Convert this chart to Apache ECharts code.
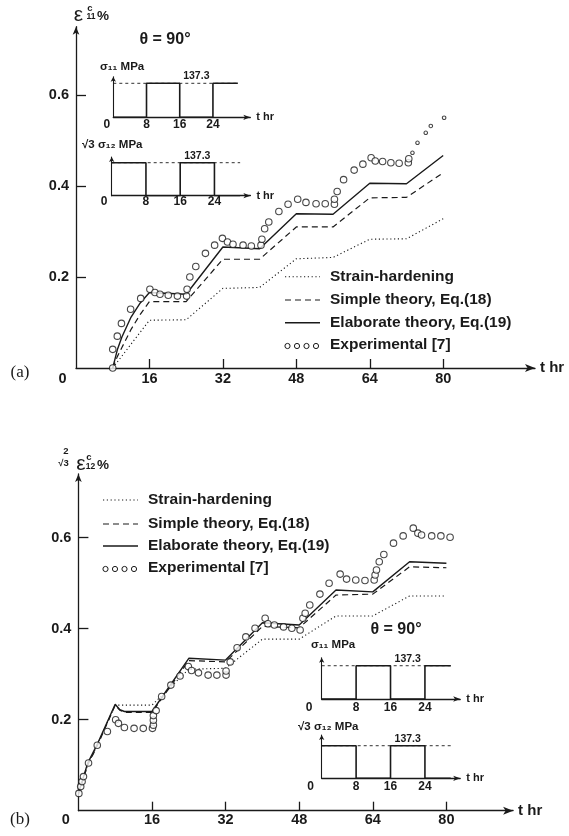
<!DOCTYPE html>
<html>
<head>
<meta charset="utf-8">
<script src="https://cdn.jsdelivr.net/npm/echarts@6/dist/echarts.min.js"></script>
<style>
  html, body { margin: 0; padding: 0; background: #fff; }
  #chart { width: 569px; height: 836px; }
</style>
</head>
<body>
<div id="chart"></div>
<script>
// ---- (a) theta = 90 deg : eps11 creep strain (%) vs t (hr) ----
const strainHardeningA = [[8, 0], [16, 0.105], [24, 0.106], [32, 0.175], [40, 0.177], [48, 0.24], [56, 0.243], [64, 0.283], [72, 0.284], [80, 0.328]];
const simpleTheoryA = [[8, 0], [9, 0.025], [10, 0.045], [12, 0.085], [14, 0.118], [16, 0.146], [24, 0.146], [32, 0.239], [40, 0.239], [48, 0.31], [56, 0.31], [64, 0.374], [72, 0.375], [80, 0.429]];
const elaborateTheoryA = [[8, 0], [9, 0.04], [10, 0.068], [12, 0.112], [14, 0.143], [16, 0.166], [24, 0.162], [32, 0.266], [40, 0.262], [48, 0.339], [56, 0.338], [64, 0.406], [72, 0.405], [80, 0.467]];
const experimentalA = [
  [8, 0], [8, 0.041], [9, 0.07], [9.9, 0.098], [11.9, 0.129], [14.1, 0.153], [16.1, 0.173], [17.2, 0.166],
  [18.3, 0.162], [20.1, 0.16], [22.1, 0.158], [24.1, 0.158], [24.2, 0.173], [24.8, 0.2], [26.1, 0.223],
  [28.2, 0.252], [30.2, 0.27], [31.9, 0.285], [33, 0.277], [34.2, 0.272], [36.4, 0.27], [38.2, 0.268],
  [40.3, 0.27], [40.5, 0.283], [41.1, 0.306], [42, 0.321], [44.2, 0.344], [46.2, 0.36], [48.3, 0.371],
  [50.1, 0.364], [52.3, 0.361], [54.3, 0.361], [56.3, 0.36], [56.3, 0.371], [56.9, 0.388], [58.3, 0.414],
  [60.6, 0.435], [62.5, 0.448], [64.3, 0.462], [65.2, 0.455], [66.8, 0.454], [68.6, 0.451], [70.4, 0.45],
  [72.4, 0.451], [72.5, 0.46], [73.3, 0.473], [74.4, 0.495], [76.2, 0.517], [77.3, 0.532], [80.2, 0.55]
];

// ---- (b) theta = 90 deg : 2/sqrt3 eps12 creep strain (%) vs t (hr) ----
const strainHardeningB = [[0, 0.038], [2, 0.1], [4, 0.142], [8, 0.232], [16, 0.232], [24, 0.311], [32, 0.313], [40, 0.377], [48, 0.377], [56, 0.428], [64, 0.428], [72, 0.472], [80, 0.472]];
const simpleTheoryB = [[0, 0.036], [2, 0.1], [4, 0.14], [8, 0.232], [9, 0.221], [10, 0.216], [16, 0.216], [24, 0.33], [32, 0.327], [40, 0.405], [48, 0.402], [56, 0.474], [64, 0.476], [72, 0.536], [80, 0.534]];
const elaborateTheoryB = [[0, 0.038], [2, 0.104], [4, 0.144], [8, 0.234], [9, 0.222], [10, 0.218], [16, 0.218], [24, 0.335], [32, 0.331], [40, 0.413], [48, 0.408], [56, 0.485], [64, 0.481], [72, 0.547], [80, 0.544]];
const experimentalB = [
  [0.1, 0.038], [0.5, 0.053], [0.8, 0.064], [1.1, 0.075], [2.2, 0.105], [4.1, 0.144], [6.3, 0.174], [8.1, 0.2],
  [8.7, 0.192], [10, 0.183], [12.1, 0.181], [14.1, 0.181], [16.1, 0.181], [16.3, 0.188], [16.3, 0.199], [16.3, 0.209],
  [16.9, 0.22], [18.1, 0.251], [20.1, 0.276], [22.1, 0.296], [23.9, 0.317], [24.6, 0.308], [26.1, 0.303], [28.2, 0.298],
  [30.1, 0.298], [32.1, 0.298], [32.1, 0.307], [33, 0.327], [34.5, 0.358], [36.4, 0.382], [38.4, 0.401], [40.6, 0.423],
  [41.2, 0.411], [42.6, 0.408], [44.6, 0.404], [46.4, 0.401], [48.2, 0.397], [48.8, 0.423], [49.3, 0.434], [50.3, 0.452],
  [52.5, 0.476], [54.5, 0.5], [56.9, 0.52], [58.3, 0.509], [60.3, 0.507], [62.3, 0.506], [64.3, 0.507], [64.5, 0.518],
  [64.8, 0.529], [65.4, 0.547], [66.4, 0.563], [68.5, 0.588], [70.6, 0.604], [72.8, 0.621], [73.8, 0.61], [74.6, 0.606],
  [76.8, 0.604], [78.8, 0.604], [80.8, 0.601]
];

// ---- stress histories (insets) ----
const stressT = [0, 8, 8, 16, 16, 24, 24, 30];
const sigma11 = [0, 0, 137.3, 137.3, 0, 0, 137.3, 137.3];
const sigma12 = [137.3, 137.3, 0, 0, 137.3, 137.3, 0, 0];
const stressLevel = 137.3;
const refT = [0, 30];

// ---- ticks ----
const mainTicksX = [0, 16, 32, 48, 64, 80];
const mainTicksY = [0.2, 0.4, 0.6];
const insetTicks = [0, 8, 16, 24];

const legendNames = ["Strain-hardening", "Simple theory, Eq.(18)", "Elaborate theory, Eq.(19)", "Experimental [7]"];

const INK = "#1a1a1a";
const FONT = "Liberation Sans";

let chart = echarts.init(document.getElementById("chart"));

const pairs = (ts, vs) => ts.map((t, i) => [t, vs[i]]);

function lineSeries(name, data, idx, style) {
  return {
    name: name,
    type: "line",
    xAxisIndex: idx,
    yAxisIndex: idx,
    data: data,
    symbol: "none",
    silent: true,
    lineStyle: Object.assign({ color: INK }, style),
    z: 3,
  };
}

function expSeries(data, idx) {
  return {
    name: legendNames[3],
    type: "scatter",
    xAxisIndex: idx,
    yAxisIndex: idx,
    data: data,
    symbol: "circle",
    // 图 (a) 末尾的点印得很淡很小
    symbolSize: v => (idx === 0 && v[0] > 73 ? 3.5 : 6.5),
    itemStyle: { color: "#fff", borderColor: INK, borderWidth: 1.1 },
    silent: true,
    z: 4,
  };
}

function stepSeries(data, idx) {
  return {
    type: "line",
    xAxisIndex: idx,
    yAxisIndex: idx,
    data: data,
    symbol: "none",
    silent: true,
    lineStyle: { color: INK, width: 1.6 },
    z: 4,
  };
}

function refSeries(idx) {
  return {
    type: "line",
    xAxisIndex: idx,
    yAxisIndex: idx,
    data: refT.map(t => [t, stressLevel]),
    symbol: "none",
    silent: true,
    lineStyle: { color: INK, width: 0.9, type: [3, 3] },
    z: 3,
    markPoint: {
      symbol: "circle",
      symbolSize: 1,
      itemStyle: { color: "rgba(0,0,0,0)" },
      label: {
        show: true,
        position: "top",
        distance: 1,
        formatter: String(stressLevel),
        color: INK,
        fontFamily: FONT,
        fontWeight: "bold",
        fontSize: 10.5,
      },
      data: [{ coord: [20, stressLevel] }],
    },
  };
}

function zeroLabel(pad, size) {
  return {
    formatter: v => (v === 0 ? "{z|0}" : String(v)),
    rich: { z: { padding: [0, pad, 0, 0], fontSize: size, fontFamily: FONT, fontWeight: "bold", color: INK } },
  };
}

function mainX(idx, max, pad, margin) {
  return {
    gridIndex: idx,
    type: "value",
    min: 0,
    max: max,
    name: "t hr",
    nameLocation: "end",
    nameGap: 5,
    nameTextStyle: { color: INK, fontFamily: FONT, fontWeight: "bold", fontSize: 15, verticalAlign: "middle" },
    axisLine: { show: true, symbol: ["none", "arrow"], symbolSize: [6, 10], lineStyle: { color: INK, width: 1.3 } },
    axisTick: { show: true, inside: true, length: 9, customValues: mainTicksX.slice(1), lineStyle: { color: INK, width: 1.3 } },
    axisLabel: Object.assign(
      { customValues: mainTicksX, margin: margin, color: INK, fontFamily: FONT, fontWeight: "bold", fontSize: 14.5 },
      zeroLabel(pad, 14.5)
    ),
    splitLine: { show: false },
  };
}

function mainY(idx, max) {
  return {
    gridIndex: idx,
    type: "value",
    min: 0,
    max: max,
    axisLine: { show: true, symbol: ["none", "arrow"], symbolSize: [5, 8], lineStyle: { color: INK, width: 1.3 } },
    axisTick: { show: true, inside: true, length: 10, customValues: mainTicksY, lineStyle: { color: INK, width: 1.3 } },
    axisLabel: {
      customValues: mainTicksY,
      margin: 7,
      color: INK,
      fontFamily: FONT,
      fontWeight: "bold",
      fontSize: 14.5,
      formatter: v => v.toFixed(1),
    },
    splitLine: { show: false },
  };
}

function insetX(idx, max, pad, margin) {
  return {
    gridIndex: idx,
    type: "value",
    min: 0,
    max: max,
    name: "t hr",
    nameLocation: "end",
    nameGap: 6,
    nameTextStyle: { color: INK, fontFamily: FONT, fontWeight: "bold", fontSize: 11, verticalAlign: "middle" },
    axisLine: { show: true, symbol: ["none", "arrow"], symbolSize: [4, 7], lineStyle: { color: INK, width: 1.3 } },
    axisTick: { show: false },
    axisLabel: Object.assign(
      { customValues: insetTicks, margin: margin, color: INK, fontFamily: FONT, fontWeight: "bold", fontSize: 12 },
      zeroLabel(pad, 12)
    ),
    splitLine: { show: false },
  };
}

function insetY(idx, max) {
  return {
    gridIndex: idx,
    type: "value",
    min: 0,
    max: max,
    axisLine: { show: true, symbol: ["none", "arrow"], symbolSize: [4, 5], lineStyle: { color: INK, width: 1.1 } },
    axisTick: { show: false },
    axisLabel: { show: false },
    splitLine: { show: false },
  };
}

function txt(x, y, text, size, extra) {
  return {
    type: "text",
    x: x,
    y: y,
    silent: true,
    style: Object.assign(
      {
        text: text,
        fontSize: size,
        fontFamily: FONT,
        fontWeight: "bold",
        fill: INK,
        align: "center",
        verticalAlign: "middle",
      },
      extra || {}
    ),
  };
}

// 图例：线型样本 + 文字
function legendBlock(x0, rows) {
  const items = [];
  const dashes = [[1.2, 2.6], [6, 4], null];
  for (let i = 0; i < 3; i++) {
    items.push({
      type: "line",
      silent: true,
      shape: { x1: x0, y1: rows[i], x2: x0 + 35, y2: rows[i] },
      style: { stroke: INK, lineWidth: i === 2 ? 1.4 : 1.1, lineDash: dashes[i] },
    });
  }
  for (let k = 0; k < 4; k++) {
    items.push({
      type: "circle",
      silent: true,
      shape: { cx: x0 + 2.5 + k * 9.5, cy: rows[3] + 1, r: 2.6 },
      style: { fill: "#fff", stroke: INK, lineWidth: 1 },
    });
  }
  for (let i = 0; i < 4; i++) {
    items.push(txt(x0 + 45, rows[i], legendNames[i], 15.5, { align: "left" }));
  }
  return items;
}

const grids = [
  { left: 76, top: 26.75, width: 459, height: 341.25 },   // (a) main
  { left: 113.3, top: 76.7, width: 137, height: 40.6 },   // (a) sigma11
  { left: 111.7, top: 157, width: 138.7, height: 38.7 },  // (a) sqrt3 sigma12
  { left: 78.4, top: 474, width: 434.7, height: 336.7 },  // (b) main
  { left: 321.7, top: 657.8, width: 138.5, height: 41.2 },// (b) sigma11
  { left: 321.7, top: 735.1, width: 138.5, height: 43.2 },// (b) sqrt3 sigma12
].map(g => Object.assign({ outerBoundsMode: "none", containLabel: false }, g));

const graphic = [
  // (a) axis title eps11^c %
  txt(78.5, 15, "ε", 21, { fontWeight: "normal" }),
  txt(90, 8, "c", 9.5),
  txt(91, 17, "11", 8.5),
  txt(103, 16, "%", 13.5),
  txt(165, 40, "θ = 90°", 16),
  txt(20, 373, "(a)", 17, { fontFamily: "Liberation Serif", fontWeight: "normal" }),
  txt(100, 67, "σ₁₁ MPa", 11.5, { align: "left" }),
  txt(82, 145, "√3 σ₁₂ MPa", 11.5, { align: "left" }),
  // (b) axis title 2/sqrt3 eps12^c %
  txt(66, 451.5, "2", 9.5),
  txt(63.5, 463, "√3", 9.5),
  txt(81, 464, "ε", 21, { fontWeight: "normal" }),
  txt(89, 457.5, "c", 9.5),
  txt(90.5, 466.5, "12", 8.5),
  txt(103, 465, "%", 13.5),
  txt(396, 630, "θ = 90°", 16),
  txt(20, 820, "(b)", 17, { fontFamily: "Liberation Serif", fontWeight: "normal" }),
  txt(311, 645, "σ₁₁ MPa", 11.5, { align: "left" }),
  txt(298, 727, "√3 σ₁₂ MPa", 11.5, { align: "left" }),
]
  .concat(legendBlock(285, [276.7, 300, 322.7, 345]))
  .concat(legendBlock(103, [500, 524, 546, 568]));

let option = {
  backgroundColor: "#fff",
  animation: false,
  grid: grids,
  xAxis: [
    mainX(0, 100, 27, 3),
    insetX(1, 33, 13, 1.5),
    insetX(2, 32.4, 15, 0),
    mainX(3, 94.5, 25, 2),
    insetX(4, 32.2, 25, 2.5),
    insetX(5, 32.2, 22, 2.5),
  ],
  yAxis: [
    mainY(0, 0.75),
    insetY(1, 164),
    insetY(2, 161),
    mainY(3, 0.74),
    insetY(4, 170),
    insetY(5, 182),
  ],
  graphic: graphic,
  series: [
    lineSeries(legendNames[0], strainHardeningA, 0, { type: [1.2, 2.6], width: 1.1 }),
    lineSeries(legendNames[1], simpleTheoryA, 0, { type: [6, 4], width: 1.2 }),
    lineSeries(legendNames[2], elaborateTheoryA, 0, { type: "solid", width: 1.4 }),
    expSeries(experimentalA, 0),
    refSeries(1),
    stepSeries(pairs(stressT, sigma11), 1),
    refSeries(2),
    stepSeries(pairs(stressT, sigma12), 2),

    lineSeries(legendNames[0], strainHardeningB, 3, { type: [1.2, 2.6], width: 1.1 }),
    lineSeries(legendNames[1], simpleTheoryB, 3, { type: [6, 4], width: 1.2 }),
    lineSeries(legendNames[2], elaborateTheoryB, 3, { type: "solid", width: 1.4 }),
    expSeries(experimentalB, 3),
    refSeries(4),
    stepSeries(pairs(stressT, sigma11), 4),
    refSeries(5),
    stepSeries(pairs(stressT, sigma12), 5),
  ],
};

chart.setOption(option);
</script>
</body>
</html>
